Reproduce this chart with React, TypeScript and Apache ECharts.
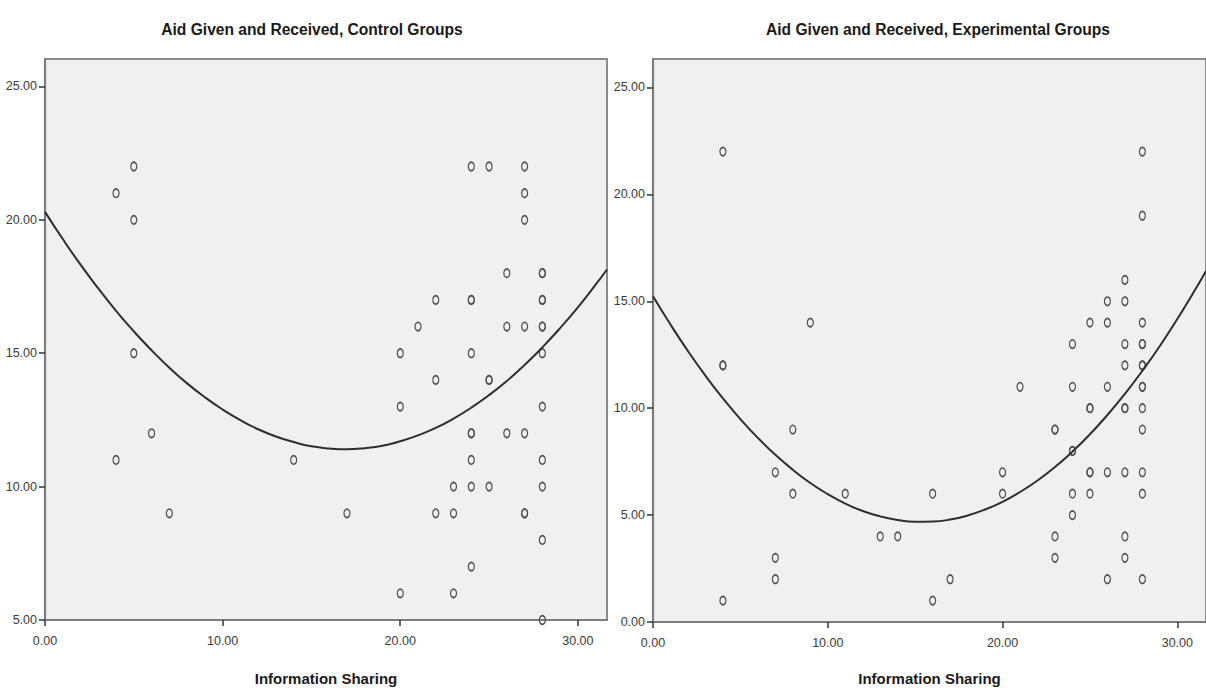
import React, { useEffect, useRef } from "react";
import * as echarts from "echarts";

const FONT = "'Liberation Sans Narrow', 'Arial Narrow', 'Liberation Sans', Arial, sans-serif";

const titles = ["Aid Given and Received, Control Groups", "Aid Given and Received, Experimental Groups"];
const xAxisName = "Information Sharing";

const xTicks = [0, 10, 20, 30];
const controlYTicks = [5, 10, 15, 20, 25];
const experimentalYTicks = [0, 5, 10, 15, 20, 25];

// Control groups: information sharing (x) vs aid given and received (y)
const controlX = [4, 5, 5, 5, 6, 4, 7, 14, 17, 20, 20, 20, 21, 22, 22, 22, 23, 23, 23, 24, 24, 24, 24, 24, 24, 24, 24, 24, 25, 25, 25, 25, 26, 26, 26, 27, 27, 27, 27, 27, 27, 27, 28, 28, 28, 28, 28, 28, 28, 28, 28, 28, 28, 28];
const controlY = [21, 22, 20, 15, 12, 11, 9, 11, 9, 15, 13, 6, 16, 17, 14, 9, 10, 9, 6, 22, 17, 17, 15, 12, 12, 11, 10, 7, 22, 14, 14, 10, 18, 16, 12, 22, 21, 20, 16, 12, 9, 9, 18, 18, 17, 17, 16, 16, 15, 13, 11, 10, 8, 5];

// Experimental groups
const experimentalX = [4, 4, 4, 4, 7, 7, 7, 8, 8, 9, 11, 13, 14, 16, 16, 17, 20, 20, 21, 23, 23, 23, 23, 24, 24, 24, 24, 24, 24, 25, 25, 25, 25, 25, 25, 26, 26, 26, 26, 26, 27, 27, 27, 27, 27, 27, 27, 27, 27, 28, 28, 28, 28, 28, 28, 28, 28, 28, 28, 28, 28, 28, 28];
const experimentalY = [22, 12, 12, 1, 7, 3, 2, 9, 6, 14, 6, 4, 4, 6, 1, 2, 7, 6, 11, 9, 9, 4, 3, 13, 11, 8, 8, 6, 5, 14, 10, 10, 7, 7, 6, 15, 14, 11, 7, 2, 16, 15, 13, 12, 10, 10, 7, 4, 3, 22, 19, 14, 13, 13, 12, 12, 11, 11, 10, 9, 7, 6, 2];

// Quadratic fit lines, values at each x
const fitX = [0, 1, 2, 3, 4, 5, 6, 7, 8, 9, 10, 11, 12, 13, 14, 15, 16, 17, 18, 19, 20, 21, 22, 23, 24, 25, 26, 27, 28, 29, 30, 31, 31.64];
const controlFitY = [20.3, 19.28, 18.32, 17.43, 16.59, 15.82, 15.11, 14.46, 13.87, 13.35, 12.89, 12.49, 12.15, 11.88, 11.67, 11.51, 11.43, 11.4, 11.44, 11.53, 11.7, 11.92, 12.2, 12.55, 12.96, 13.43, 13.96, 14.56, 15.22, 15.94, 16.72, 17.57, 18.14];
const experimentalFitY = [15.23, 13.91, 12.67, 11.52, 10.46, 9.49, 8.61, 7.82, 7.12, 6.5, 5.98, 5.54, 5.19, 4.94, 4.77, 4.69, 4.7, 4.79, 4.98, 5.26, 5.62, 6.08, 6.62, 7.25, 7.97, 8.78, 9.68, 10.67, 11.75, 12.91, 14.17, 15.51, 16.42];

const X_MAX = 31.64;
const CONTROL_Y_RANGE = [5, 26.03];
const EXPERIMENTAL_Y_RANGE = [0, 26.33];

const zip = (xs: number[], ys: number[]) => xs.map((x, i) => [x, ys[i]]);

export default function App() {
  const ref = useRef<HTMLDivElement>(null);

  useEffect(() => {
    if (!ref.current) return;
    const chart = echarts.init(ref.current, null, { renderer: "svg" });

    const labelStyle = {
      fontFamily: FONT,
      fontSize: 12.5,
      color: "#3a3a3a",
    };
    const axisLine = { show: true, onZero: false, lineStyle: { color: "#7d7d7d", width: 2.2 } };
    const axisTick = (vals: number[]) => ({
      show: true,
      length: 6,
      inside: false,
      customValues: vals,
      lineStyle: { color: "#333", width: 1.5 },
    });
    const gridBase = {
      show: true,
      backgroundColor: "#f0f0f0",
      borderColor: "#8c8c8c",
      borderWidth: 2,
      containLabel: false,
    };

    const makeX = (gridIndex: number, nameGap: number) => ({
      type: "value",
      gridIndex,
      min: 0,
      max: X_MAX,
      interval: 10,
      axisLine,
      axisTick: axisTick(xTicks),
      axisLabel: {
        ...labelStyle,
        margin: 14,
        customValues: xTicks,
        formatter: (v: number) => v.toFixed(2),
      },
      splitLine: { show: false },
      name: xAxisName,
      nameLocation: "middle",
      nameGap,
      nameTextStyle: { fontFamily: FONT, fontSize: 15, fontWeight: "bold", color: "#1a1a1a" },
    });

    const makeY = (gridIndex: number, range: number[], ticks: number[]) => ({
      type: "value",
      gridIndex,
      min: range[0],
      max: range[1],
      interval: 5,
      axisLine,
      axisTick: axisTick(ticks),
      axisLabel: {
        ...labelStyle,
        margin: 8,
        customValues: ticks,
        formatter: (v: number) => v.toFixed(2),
      },
      splitLine: { show: false },
    });

    const scatter = (idx: number, data: number[][]) => ({
      type: "scatter",
      xAxisIndex: idx,
      yAxisIndex: idx,
      data,
      symbol: "circle",
      symbolSize: [6, 8.5],
      itemStyle: { color: "rgba(0,0,0,0)", borderColor: "#505050", borderWidth: 1.4, opacity: 1 },
      z: 3,
    });
    const fit = (idx: number, data: number[][]) => ({
      type: "line",
      xAxisIndex: idx,
      yAxisIndex: idx,
      data,
      smooth: true,
      showSymbol: false,
      symbol: "none",
      clip: true,
      lineStyle: { color: "#2e2e2e", width: 2 },
      z: 4,
    });

    chart.setOption({
      animation: false,
      backgroundColor: "#ffffff",
      title: [
        {
          text: titles[0],
          left: 307,
          top: 16,
          textAlign: "center",
          textStyle: { fontFamily: FONT, fontSize: 15.6, fontWeight: "bold", color: "#1a1a1a" },
        },
        {
          text: titles[1],
          left: 933,
          top: 16,
          textAlign: "center",
          textStyle: { fontFamily: FONT, fontSize: 15.6, fontWeight: "bold", color: "#1a1a1a" },
        },
      ],
      grid: [
        { ...gridBase, left: 45, top: 59, width: 562, height: 561 },
        { ...gridBase, left: 653, top: 59, width: 562, height: 563.5 },
      ],
      xAxis: [makeX(0, 51), makeX(1, 49)],
      yAxis: [makeY(0, CONTROL_Y_RANGE, controlYTicks), makeY(1, EXPERIMENTAL_Y_RANGE, experimentalYTicks)],
      series: [
        scatter(0, zip(controlX, controlY)),
        fit(0, zip(fitX, controlFitY)),
        scatter(1, zip(experimentalX, experimentalY)),
        fit(1, zip(fitX, experimentalFitY)),
      ],
    });

    return () => chart.dispose();
  }, []);

  return (
    <div
      ref={ref}
      style={{ position: "fixed", left: 0, top: 0, width: 1206, height: 691, background: "#fff" }}
    />
  );
}
